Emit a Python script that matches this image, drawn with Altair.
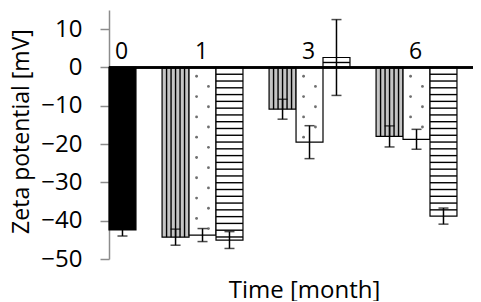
import altair as alt
import pandas as pd

# ---- data ----
times = ["0", "1", "3", "6"]
black_vals = [-42.4, None, None, None]
black_err = [1.6, None, None, None]
vert_vals = [None, -44.3, -10.9, -18.0]
vert_err = [None, 2.1, 2.6, 2.75]
dot_vals = [None, -43.75, -19.5, -18.75]
dot_err = [None, 1.7, 4.3, 2.6]
horiz_vals = [None, -45.05, 2.6, -38.8]
horiz_err = [None, 2.2, 9.9, 2.1]

# ---- layout / style constants ----
BAR_W = 0.252          # bar width in category units
SLOT = {"Black": 1, "Vertical": -1, "Dotted": 0, "Horizontal": 1}
FONT = "Open Sans"
FS = 23

rows = []
for name, vals, errs in [("Black", black_vals, black_err),
                         ("Vertical", vert_vals, vert_err),
                         ("Dotted", dot_vals, dot_err),
                         ("Horizontal", horiz_vals, horiz_err)]:
    for g, (t, v, e) in enumerate(zip(times, vals, errs)):
        if v is None:
            continue
        c = g + SLOT[name] * BAR_W
        rows.append(dict(series=name, time=t, g=g, value=v, err=e,
                         xc=c, x_lo=c - BAR_W / 2, x_hi=c + BAR_W / 2,
                         lo=v - e, hi=v + e, zero=0.0))
bars = pd.DataFrame(rows)

# textures derived from the bars
vlines, hlines, dots = [], [], []
for r in bars.itertuples():
    if r.series == "Vertical":
        for k in range(1, 6):
            vlines.append(dict(x=r.x_lo + k * BAR_W / 6, y=0.0, y2=r.value))
    elif r.series == "Horizontal":
        if r.value > 0:
            hlines.append(dict(x=r.x_lo, x2=r.x_hi, y=r.value / 2))
        else:
            step = 1.77
            k = 1
            while k * step < abs(r.value) - 0.3:
                hlines.append(dict(x=r.x_lo, x2=r.x_hi, y=-k * step))
                k += 1
    elif r.series == "Dotted":
        j = 0
        while True:
            y = -(2.3 + j * 2.65)
            if y < r.value + 0.8:
                break
            frac = 0.28 if j % 2 == 0 else 0.72
            dots.append(dict(x=r.x_lo + frac * BAR_W, y=y))
            j += 1
vlines = pd.DataFrame(vlines)
hlines = pd.DataFrame(hlines)
dots = pd.DataFrame(dots)

labels = bars.groupby(["g", "time"], as_index=False)["xc"].mean()

XMIN = 0.126
XMAX = 0.126 + 364 / 107
xs = alt.Scale(domain=[XMIN, XMAX], nice=False, zero=False)
ys = alt.Scale(domain=[-50, 15], nice=False)

x_axis = alt.Axis(title="Time [month]", labels=False, ticks=False, domain=False,
                  grid=False, titleX=195, titleY=38, titleBaseline="alphabetic",
                  titleAlign="center", titleFontSize=24, titleFont=FONT,
                  titleFontWeight="normal", titleColor="black")
y_axis = alt.Axis(title="Zeta potential [mV]", values=[10, 0, -10, -20, -30, -40, -50],
                  grid=False, tickSize=9, tickColor="#8c8c8c", tickWidth=1.5,
                  domainColor="#8c8c8c", domainWidth=1.5, labelPadding=18,
                  labelFontSize=24, labelFont=FONT, labelColor="black",
                  titleFontSize=FS, titleFont=FONT, titleFontWeight="normal",
                  titleColor="black", titleBaseline="alphabetic", titleAngle=270,
                  titleAlign="center", titleX=-81, titleY=121)

fill_scale = alt.Scale(domain=["Black", "Vertical", "Dotted", "Horizontal"],
                       range=["black", "#c4c4c4", "white", "white"])

bar_layer = alt.Chart(bars).mark_bar(stroke="black", strokeWidth=1.2).encode(
    x=alt.X("x_lo:Q", scale=xs, axis=x_axis),
    x2="x_hi:Q",
    y=alt.Y("value:Q", scale=ys, axis=y_axis),
    y2="zero:Q",
    fill=alt.Fill("series:N", scale=fill_scale, legend=None),
)

vl_layer = alt.Chart(vlines).mark_rule(color="black", strokeWidth=1.4).encode(
    x=alt.X("x:Q", scale=xs, axis=x_axis),
    y=alt.Y("y:Q", scale=ys, axis=y_axis), y2="y2:Q")

hl_layer = alt.Chart(hlines).mark_rule(color="black", strokeWidth=1.4).encode(
    x=alt.X("x:Q", scale=xs, axis=x_axis), x2="x2:Q",
    y=alt.Y("y:Q", scale=ys, axis=y_axis))

dot_layer = alt.Chart(dots).mark_circle(color="#6f6f6f", size=8, opacity=1).encode(
    x=alt.X("x:Q", scale=xs, axis=x_axis),
    y=alt.Y("y:Q", scale=ys, axis=y_axis))

zero_layer = alt.Chart(bars).mark_rule(color="black", strokeWidth=1.5).encode(
    y=alt.datum(0, scale=ys))

err_layer = alt.Chart(bars).mark_rule(color="black", strokeWidth=1.5).encode(
    x=alt.X("xc:Q", scale=xs, axis=x_axis),
    y=alt.Y("lo:Q", scale=ys, axis=y_axis), y2="hi:Q")

cap_lo = alt.Chart(bars).mark_tick(color="black", orient="horizontal", size=10,
                                   thickness=1.5).encode(
    x=alt.X("xc:Q", scale=xs, axis=x_axis),
    y=alt.Y("lo:Q", scale=ys, axis=y_axis))
cap_hi = alt.Chart(bars).mark_tick(color="black", orient="horizontal", size=10,
                                   thickness=1.5).encode(
    x=alt.X("xc:Q", scale=xs, axis=x_axis),
    y=alt.Y("hi:Q", scale=ys, axis=y_axis))

text_layer = alt.Chart(labels).mark_text(font=FONT, fontSize=FS, color="black",
                                         baseline="alphabetic", dy=-8, dx=-1).encode(
    x=alt.X("xc:Q", scale=xs, axis=x_axis),
    y=alt.datum(0, scale=ys),
    text="time:N")

chart = alt.layer(bar_layer, vl_layer, hl_layer, dot_layer, zero_layer,
                  err_layer, cap_lo, cap_hi, text_layer).properties(
    width=364, height=249,
    autosize=alt.AutoSizeParams(type="none"),
    padding={"left": 101, "top": 2, "right": 0, "bottom": 42},
).configure_view(strokeWidth=0)

chart.save("out.html", embed_options={"renderer": "svg", "actions": False})
